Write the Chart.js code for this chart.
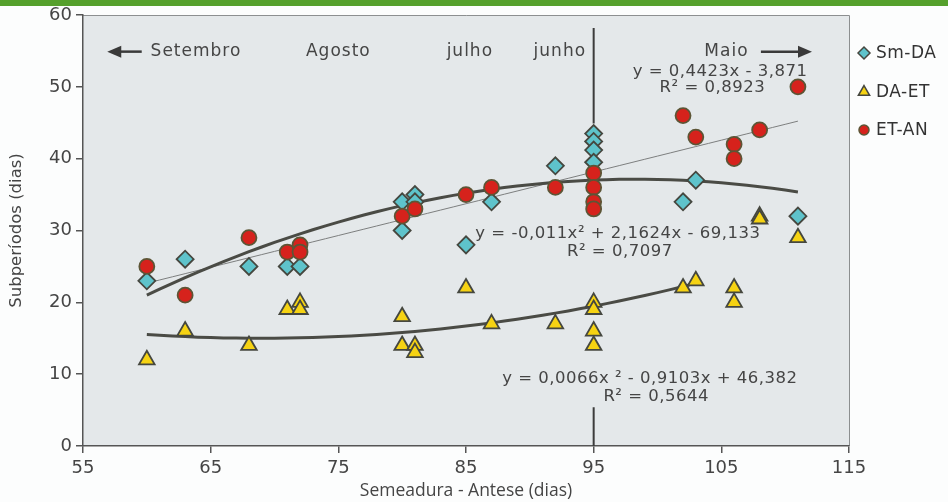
<!DOCTYPE html>
<html>
<head>
<meta charset="utf-8">
<script src="https://cdn.jsdelivr.net/npm/chart.js"></script>
<style>
  html, body { margin: 0; padding: 0; background: #fcfdfd; }
  #wrap { position: relative; width: 948px; height: 502px; }
  #bar { position: absolute; left: 0; top: 0; width: 948px; height: 6px; background: #55a02c; }
  canvas { position: absolute; left: 0; top: 0; }
</style>
</head>
<body>
<div id="wrap">
  <canvas id="chart" width="948" height="502"></canvas>
  <div id="bar"></div>
</div>
<script>
// Sm-DA (diamonds)
const smdaX = [60, 63, 68, 71, 72, 80, 80, 81, 81, 85, 87, 92, 95, 95, 95, 95, 102, 103, 111];
const smdaY = [23, 26, 25, 25, 25, 34, 30, 35, 34, 28, 34, 39, 43.5, 42.4, 41.2, 39.5, 34, 37, 32];

// DA-ET (triangles)
const daetX = [60, 63, 68, 71, 72, 72, 80, 80, 81, 81, 85, 87, 92, 95, 95, 95, 95, 102, 103, 106, 106, 108, 108, 111];
const daetY = [12, 16, 14, 19, 20, 19, 18, 14, 14, 13, 22, 17, 17, 20, 19, 16, 14, 22, 23, 22, 20, 32, 31.6, 29];

// ET-AN (circles)
const etanX = [60, 63, 68, 71, 72, 72, 80, 81, 85, 87, 92, 95, 95, 95, 95, 102, 103, 106, 106, 108, 111];
const etanY = [25, 21, 29, 27, 28, 27, 32, 33, 35, 36, 36, 38, 36, 34, 33, 46, 43, 42, 40, 44, 50];

// trend lines, coefficients as printed on the chart (highest power first)
const linSmda = [0.4423, -3.871];
const quadEtan = [-0.011, 2.1624, -69.133];
const quadDaet = [0.0066, -0.9103, 46.382];
const linSmdaRange = [60, 111];
const quadEtanRange = [60, 111];
const quadDaetRange = [60, 102.5];

const xTicks = [55, 65, 75, 85, 95, 105, 115];
const yTicks = [0, 10, 20, 30, 40, 50, 60];

const months = ['Setembro', 'Agosto', 'julho', 'junho', 'Maio'];

const toPts = (xs, ys) => xs.map((x, i) => ({ x, y: ys[i] }));
const poly = (c, x) => c.reduce((acc, k) => acc * x + k, 0);
function trend(c, range) {
  const pts = [];
  for (let x = range[0]; x < range[1]; x++) pts.push({ x, y: poly(c, x) });
  pts.push({ x: range[1], y: poly(c, range[1]) });
  return pts;
}

const TXT = '#454545';
const EDGE = '#45473f';

// background, frame, divider line at 95
const backdrop = {
  id: 'backdrop',
  beforeDraw(chart) {
    const { ctx, chartArea: a } = chart;
    ctx.save();
    ctx.fillStyle = '#e4e8ea';
    ctx.fillRect(a.left, a.top, a.right - a.left, a.bottom - a.top);
    ctx.strokeStyle = '#8c8f90';
    ctx.lineWidth = 1;
    ctx.beginPath();
    ctx.moveTo(a.left, a.top + 0.5);
    ctx.lineTo(a.right + 0.5, a.top + 0.5);
    ctx.lineTo(a.right + 0.5, a.bottom);
    ctx.stroke();
    ctx.restore();
  },
  beforeDatasetsDraw(chart) {
    const { ctx, scales: { x, y } } = chart;
    const px = x.getPixelForValue(95);
    ctx.save();
    ctx.strokeStyle = '#3c3c3c';
    ctx.lineWidth = 2;
    ctx.beginPath();
    ctx.moveTo(px, y.getPixelForValue(58.2));
    ctx.lineTo(px, y.getPixelForValue(44.9));
    ctx.moveTo(px, y.getPixelForValue(5.4));
    ctx.lineTo(px, y.getPixelForValue(0));
    ctx.stroke();
    ctx.restore();
  }
};

function arrow(ctx, tip, tail, yy, dir) {
  ctx.beginPath();
  ctx.moveTo(tip + dir * 10, yy);
  ctx.lineTo(tail, yy);
  ctx.stroke();
  ctx.beginPath();
  ctx.moveTo(tip, yy);
  ctx.lineTo(tip + dir * 14, yy - 6);
  ctx.lineTo(tip + dir * 14, yy + 6);
  ctx.closePath();
  ctx.fill();
}

// month labels, arrows, equations, legend
const notes = {
  id: 'notes',
  afterDraw(chart) {
    const { ctx, scales: { x, y } } = chart;
    const X = v => x.getPixelForValue(v), Y = v => y.getPixelForValue(v);
    ctx.save();
    ctx.fillStyle = TXT;
    ctx.textAlign = 'center';
    ctx.textBaseline = 'middle';
    ctx.font = '17px "DejaVu Sans"';
    ctx.letterSpacing = '1px';
    const mx = [63.85, 75, 85.3, 92.35, 105.4];
    months.forEach((m, i) => ctx.fillText(m, X(mx[i]), Y(54.9)));

    // arrows
    ctx.strokeStyle = '#3a3a3a';
    ctx.fillStyle = '#3a3a3a';
    ctx.lineWidth = 2.5;
    const ay = Y(54.9);
    arrow(ctx, X(56.9), X(59.6), ay, 1);
    arrow(ctx, X(112.1), X(108.1), ay, -1);

    // equations
    ctx.fillStyle = TXT;
    ctx.font = '16.5px "DejaVu Sans"';
    ctx.letterSpacing = '0.5px';
    ctx.fillText('y = 0,4423x - 3,871', X(104.9), Y(52.1));
    ctx.fillText('R\u00b2 = 0,8923', X(104.3), Y(49.9));
    ctx.fillText('y = -0,011x\u00b2 + 2,1624x - 69,133', X(96.9), Y(29.5));
    ctx.fillText('R\u00b2 = 0,7097', X(97.05), Y(27.0));
    ctx.fillText('y = 0,0066x \u00b2 - 0,9103x + 46,382', X(99.4), Y(9.33));
    ctx.fillText('R\u00b2 = 0,5644', X(99.9), Y(6.8));

    // legend
    const items = chart.data.datasets.filter(d => d.legend);
    const ly = [53, 92, 130];
    ctx.textAlign = 'left';
    ctx.font = '17px "DejaVu Sans"';
    ctx.letterSpacing = '0.5px';
    items.forEach((d, i) => {
      ctx.fillStyle = d.backgroundColor;
      ctx.strokeStyle = d.borderColor;
      ctx.lineWidth = 1.5;
      Chart.helpers.drawPoint(ctx, {
        pointStyle: d.pointStyle, radius: d.legendRadius, borderWidth: 1.5, rotation: 0
      }, 864, ly[i]);
      ctx.fillStyle = '#333';
      ctx.fillText(d.label, 876, ly[i] + 1);
    });
    ctx.restore();
  }
};

const lineStyle = { showLine: true, pointRadius: 0, pointHoverRadius: 0, fill: false, tension: 0 };

new Chart(document.getElementById('chart'), {
  type: 'scatter',
  data: {
    datasets: [
      {
        label: 'Sm-DA', legend: true, legendRadius: 6,
        data: toPts(smdaX, smdaY), pointStyle: 'rectRot', pointRadius: 8.5,
        backgroundColor: '#5ec3cb', borderColor: EDGE, borderWidth: 1.8, order: 2
      },
      {
        label: 'DA-ET', legend: true, legendRadius: 6.5,
        data: toPts(daetX, daetY), pointStyle: 'triangle', pointRadius: 9,
        backgroundColor: '#f6d313', borderColor: EDGE, borderWidth: 1.8, order: 3
      },
      {
        label: 'ET-AN', legend: true, legendRadius: 5,
        data: toPts(etanX, etanY), pointStyle: 'circle', pointRadius: 7.5,
        backgroundColor: '#d6221c', borderColor: '#5c5536', borderWidth: 1.8, order: 1
      },
      { label: 'lin', data: trend(linSmda, linSmdaRange), borderColor: '#7d7f7f', borderWidth: 1, order: 5, ...lineStyle },
      { label: 'quad1', data: trend(quadEtan, quadEtanRange), borderColor: '#4a4b45', borderWidth: 3, order: 4, ...lineStyle },
      { label: 'quad2', data: trend(quadDaet, quadDaetRange), borderColor: '#4a4b45', borderWidth: 3, order: 4, ...lineStyle }
    ]
  },
  options: {
    responsive: false,
    animation: false,
    layout: { padding: { top: 15, right: 99, left: 0, bottom: 0 } },
    plugins: { legend: { display: false }, tooltip: { enabled: false } },
    scales: {
      x: {
        type: 'linear', min: 55, max: 115,
        afterBuildTicks: s => { s.ticks = xTicks.map(v => ({ value: v })); },
        afterFit: s => { s.height = 56; },
        ticks: { color: TXT, font: { family: 'DejaVu Sans', size: 18 }, padding: 5 },
        grid: { drawOnChartArea: false, drawTicks: true, tickLength: 7, color: '#555', lineWidth: 1.5 },
        border: { color: '#555', width: 1.5 },
        title: {
          display: true, text: 'Semeadura - Antese (dias)', color: TXT,
          font: { family: 'Open Sans', size: 17.5 }, padding: { top: 0, bottom: 0 }
        }
      },
      y: {
        min: 0, max: 60,
        afterBuildTicks: s => { s.ticks = yTicks.map(v => ({ value: v })); },
        afterFit: s => { s.width = 83; },
        ticks: { color: TXT, font: { family: 'DejaVu Sans', size: 18 }, padding: 4 },
        grid: { drawOnChartArea: false, drawTicks: true, tickLength: 7, color: '#555', lineWidth: 1.5 },
        border: { color: '#555', width: 1.5 },
        title: {
          display: true, text: 'Subperíodos (dias)', color: TXT,
          font: { family: 'DejaVu Sans', size: 16.5 }, padding: { top: 7, bottom: 0 }
        }
      }
    }
  },
  plugins: [backdrop, notes]
});
</script>
</body>
</html>
